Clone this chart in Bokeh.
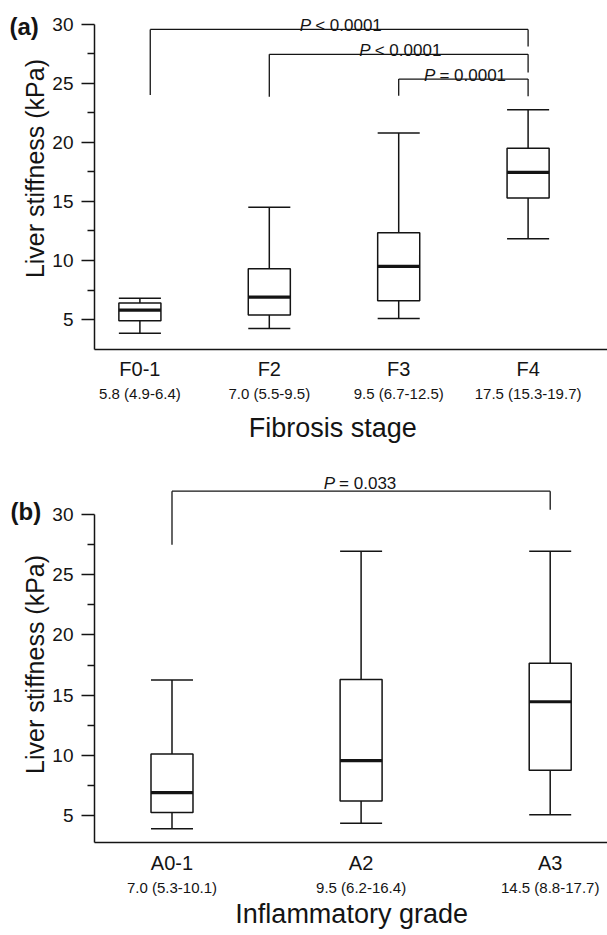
import math
from bokeh.plotting import figure
from bokeh.layouts import column
from bokeh.models import FixedTicker, LinearAxis, Range1d
from bokeh.embed import file_html
from bokeh.resources import INLINE
from bokeh.core.properties import value

FONT = "Liberation Sans"
INK = "#141414"

# ---------------- data: panel (a) fibrosis stage ----------------
stages = ["F0-1", "F2", "F3", "F4"]
stage_summary = ["5.8 (4.9-6.4)", "7.0 (5.5-9.5)", "9.5 (6.7-12.5)", "17.5 (15.3-19.7)"]
a_lo = [3.85, 4.25, 5.1, 11.85]
a_q1 = [4.9, 5.4, 6.6, 15.3]
a_med = [5.8, 6.9, 9.5, 17.45]
a_q3 = [6.4, 9.3, 12.35, 19.5]
a_hi = [6.8, 14.5, 20.8, 22.75]
# comparisons (group index pairs), bracket levels and P values
a_cmp_from = [0, 1, 2]
a_cmp_to = [3, 3, 3]
a_cmp_nudge = [0.08, 0.0, 0.0]
a_cmp_top = [29.55, 27.45, 25.35]
a_cmp_foot_from = [24.0, 23.85, 23.95]
a_cmp_foot_to = [28.1, 25.9, 23.9]
a_cmp_p = ["< 0.0001", "< 0.0001", "= 0.0001"]

# ---------------- data: panel (b) inflammatory grade ----------------
grades = ["A0-1", "A2", "A3"]
grade_summary = ["7.0 (5.3-10.1)", "9.5 (6.2-16.4)", "14.5 (8.8-17.7)"]
b_lo = [3.9, 4.35, 5.05]
b_q1 = [5.25, 6.2, 8.75]
b_med = [6.9, 9.55, 14.45]
b_q3 = [10.1, 16.3, 17.65]
b_hi = [16.25, 26.95, 26.95]
b_cmp_from = [0]
b_cmp_to = [2]
b_cmp_nudge = [0.0]
b_cmp_top = [31.95]
b_cmp_foot_from = [27.5]
b_cmp_foot_to = [30.4]
b_cmp_p = ["= 0.033"]

y_major = [5, 10, 15, 20, 25, 30]
y_minor = [7.5, 12.5, 17.5, 22.5, 27.5]
y_title = "Liver stiffness (kPa)"


def panel(tag, cats, summary, lo, q1, med, q3, hi,
          cmp_from, cmp_to, cmp_nudge, cmp_top, foot_from, foot_to, cmp_p,
          xr, yr, yaxis_at, xaxis_at, box_w, width, height,
          xtitle, xtitle_at, sub_dy, title_dy, p_offset, p_split, tag_dx, tag_dy,
          ylabel_dx, ylabel_mid):
    p = figure(width=width, height=height, output_backend="svg", toolbar_location=None,
               x_range=Range1d(*xr), y_range=Range1d(*yr),
               min_border_left=0, min_border_right=0,
               min_border_top=0, min_border_bottom=0,
               x_axis_type=None)
    p.outline_line_color = None
    p.grid.visible = False
    p.background_fill_color = "white"
    p.border_fill_color = "white"

    xs = [i + 1 for i in range(len(cats))]
    half = box_w / 2
    left = [x - half for x in xs]
    right = [x + half for x in xs]

    # whiskers
    p.segment(x0=xs, x1=xs, y0=q3, y1=hi, line_color=INK, line_width=1.5)
    p.segment(x0=xs, x1=xs, y0=lo, y1=q1, line_color=INK, line_width=1.5)
    p.segment(x0=left, x1=right, y0=hi, y1=hi, line_color=INK, line_width=1.5)
    p.segment(x0=left, x1=right, y0=lo, y1=lo, line_color=INK, line_width=1.5)
    # boxes
    p.quad(left=left, right=right, bottom=q1, top=q3, fill_color="white",
           line_color=INK, line_width=1.5)
    # medians
    p.segment(x0=left, x1=right, y0=med, y1=med, line_color=INK, line_width=3.2)

    # comparison brackets
    bx0 = [xs[i] + n for i, n in zip(cmp_from, cmp_nudge)]
    bx1 = [xs[j] for j in cmp_to]
    p.segment(x0=bx0, x1=bx1, y0=cmp_top, y1=cmp_top, line_color=INK, line_width=1.3)
    p.segment(x0=bx0, x1=bx0, y0=foot_from, y1=cmp_top, line_color=INK, line_width=1.3)
    p.segment(x0=bx1, x1=bx1, y0=foot_to, y1=cmp_top, line_color=INK, line_width=1.3)
    mids = [(a + b) / 2 for a, b in zip(bx0, bx1)]
    p.text(x=mids, y=cmp_top, text=["P"] * len(mids), text_align="right",
           text_baseline="alphabetic", x_offset=p_split, y_offset=p_offset,
           text_font=value(FONT), text_font_style="italic", text_font_size="17px",
           text_color=INK)
    p.text(x=mids, y=cmp_top, text=cmp_p, text_align="left",
           text_baseline="alphabetic", x_offset=p_split + 4, y_offset=p_offset,
           text_font=value(FONT), text_font_size="17px", text_color=INK)

    # y axis, drawn at a fixed place inside the full-size frame
    ya = p.yaxis[0]
    ya.fixed_location = yaxis_at
    ya.ticker = FixedTicker(ticks=y_major, minor_ticks=y_minor)
    ya.bounds = (xaxis_at, 30)
    ya.major_label_text_font = FONT
    ya.major_label_text_font_size = "19px"
    ya.major_label_text_color = INK
    ya.major_label_standoff = 8
    ya.major_tick_in = 0
    ya.major_tick_out = 13
    ya.minor_tick_in = 0
    ya.minor_tick_out = 7
    ya.axis_line_width = 1.5
    ya.major_tick_line_width = 1.5
    ya.minor_tick_line_width = 1.5
    ya.axis_line_color = INK
    ya.major_tick_line_color = INK
    ya.minor_tick_line_color = INK

    # x axis with the category names, also at a fixed place
    xa = LinearAxis(ticker=FixedTicker(ticks=xs, minor_ticks=[]),
                    major_label_overrides={x: c for x, c in zip(xs, cats)})
    xa.fixed_location = xaxis_at
    xa.bounds = (yaxis_at, xr[1])
    xa.major_tick_line_color = None
    xa.minor_tick_line_color = None
    xa.axis_line_color = INK
    xa.axis_line_width = 1.5
    xa.major_label_text_font = FONT
    xa.major_label_text_font_size = "20px"
    xa.major_label_text_color = INK
    xa.major_label_standoff = 3
    p.add_layout(xa, "below")

    # median (IQR) under each category, and the x title
    p.text(x=xs, y=[xaxis_at] * len(xs), text=summary, y_offset=sub_dy,
           text_align="center", text_baseline="middle",
           text_font=value(FONT), text_font_size="15px", text_color=INK)
    p.text(x=[xtitle_at], y=[xaxis_at], text=[xtitle], y_offset=title_dy,
           text_align="center", text_baseline="middle",
           text_font=value(FONT), text_font_size="27px", text_color=INK)

    # y axis title and panel tag
    p.text(x=[xr[0]], y=[ylabel_mid], text=[y_title], angle=math.pi / 2,
           x_offset=ylabel_dx, text_align="center", text_baseline="alphabetic",
           text_font=value(FONT), text_font_size="25px", text_color=INK)
    p.text(x=[xr[0]], y=[y_major[-1]], text=[tag], x_offset=tag_dx, y_offset=tag_dy,
           text_align="left", text_baseline="middle",
           text_font=value(FONT), text_font_size="24px", text_font_style="bold",
           text_color=INK)
    return p


pa = panel("(a)", stages, stage_summary, a_lo, a_q1, a_med, a_q3, a_hi,
           a_cmp_from, a_cmp_to, a_cmp_nudge, a_cmp_top, a_cmp_foot_from,
           a_cmp_foot_to, a_cmp_p,
           xr=(-0.0773, 4.6136), yr=(-5.65, 32.0), yaxis_at=0.649, xaxis_at=2.5,
           box_w=0.325, width=607, height=445,
           xtitle="Fibrosis stage", xtitle_at=2.49, sub_dy=44, title_dy=79,
           p_offset=-4, p_split=-28, tag_dx=9, tag_dy=2,
           ylabel_dx=34, ylabel_mid=17.78)

pb = panel("(b)", grades, grade_summary, b_lo, b_q1, b_med, b_q3, b_hi,
           b_cmp_from, b_cmp_to, b_cmp_nudge, b_cmp_top, b_cmp_foot_from,
           b_cmp_foot_to, b_cmp_p,
           xr=(0.0931, 3.303), yr=(-4.98, 35.75), yaxis_at=0.590, xaxis_at=2.74,
           box_w=0.222, width=607, height=490,
           xtitle="Inflammatory grade", xtitle_at=1.95, sub_dy=45, title_dy=71,
           p_offset=-8, p_split=-26, tag_dx=10, tag_dy=-3,
           ylabel_dx=34, ylabel_mid=17.55)

layout = column(pa, pb, spacing=0)
open("out.html", "w").write(file_html(layout, INLINE))
